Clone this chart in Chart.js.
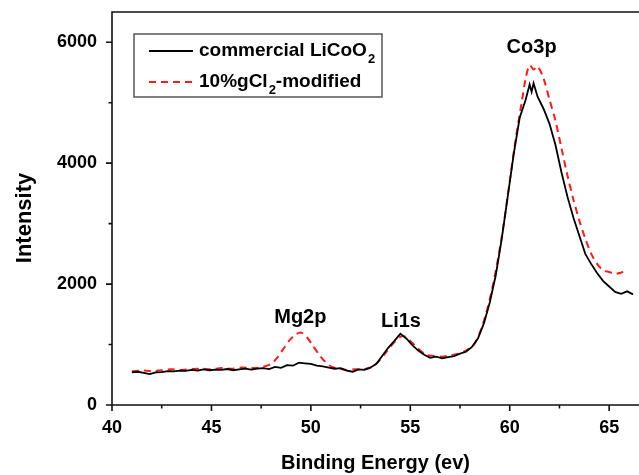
<!DOCTYPE html>
<html><head><meta charset="utf-8">
<script src="https://cdn.jsdelivr.net/npm/chart.js@4/dist/chart.umd.min.js"></script>
<style>html,body{margin:0;padding:0;background:#fff}#wrap{width:639px;height:475px}</style>
</head><body><div id="wrap"><canvas id="c"></canvas></div>
<script>
const energyBlack = [41.0,41.3,41.6,41.9,42.2,42.5,42.8,43.1,43.4,43.7,44.0,44.3,44.6,44.9,45.2,45.5,45.8,46.1,46.4,46.7,47.0,47.3,47.6,47.9,48.2,48.5,48.8,49.1,49.4,49.7,50.0,50.3,50.6,50.9,51.2,51.5,51.8,52.1,52.4,52.7,53.0,53.3,53.6,53.9,54.2,54.5,54.8,55.1,55.4,55.7,56.0,56.3,56.6,56.9,57.2,57.5,57.8,58.1,58.4,58.7,59.0,59.3,59.6,59.9,60.2,60.5,60.8,61.0,61.1,61.2,61.4,61.7,62.0,62.3,62.6,62.9,63.2,63.5,63.8,64.1,64.4,64.7,65.0,65.3,65.6,65.9,66.2];
const intensityBlack = [540,550,530,510,540,545,560,555,570,565,580,570,590,575,585,580,595,575,590,600,585,600,610,595,630,615,660,650,700,690,680,650,640,620,600,610,570,550,590,580,620,680,820,950,1060,1180,1100,990,900,830,780,800,770,790,810,850,880,960,1100,1350,1700,2150,2750,3450,4150,4750,5050,5300,5180,5320,5100,4900,4650,4300,3850,3450,3100,2800,2500,2330,2180,2050,1960,1870,1840,1880,1830];
const energyRed = [41.0,41.5,42.0,42.5,43.0,43.5,44.0,44.5,45.0,45.5,46.0,46.5,47.0,47.5,48.0,48.3,48.6,48.9,49.2,49.5,49.8,50.1,50.4,50.7,51.0,51.4,51.8,52.2,52.6,53.0,53.4,53.8,54.2,54.6,55.0,55.4,55.8,56.2,56.6,57.0,57.4,57.8,58.2,58.5,58.8,59.1,59.4,59.7,60.0,60.3,60.6,60.8,61.0,61.2,61.4,61.7,62.0,62.3,62.6,62.9,63.2,63.5,63.8,64.1,64.4,64.7,65.0,65.3,65.7];
const intensityRed = [560,570,560,575,590,580,595,600,590,610,600,620,610,625,680,780,920,1060,1160,1200,1120,980,840,720,640,600,580,590,590,620,720,880,1040,1140,1060,930,830,810,800,820,850,900,1000,1200,1500,1900,2400,3000,3700,4400,5000,5400,5620,5550,5600,5400,5050,4700,4250,3800,3400,3050,2750,2500,2330,2230,2200,2170,2200];
const seriesLabels = ['commercial LiCoO\u2082', '10%gCl\u2082-modified'];
const xMajorTicks = [40,45,50,55,60,65];
const xMinorTicks = [42.5,47.5,52.5,57.5,62.5];
const yMajorTicks = [0,2000,4000,6000];
const yMinorTicks = [1000,3000,5000];
const peakLabels = ['Mg2p','Li1s','Co3p'];
const peakLabelX = [49.47,54.53,61.1];
const peakLabelY = [1440,1375,5910];
const yTitle = 'Intensity';

const FONT = '"Liberation Sans", Arial, sans-serif';
const pts = (xs, ys) => xs.map((x,i)=>({x, y: ys[i]}));

const decor = {
  id: 'decor',
  afterDraw(chart) {
    const ctx = chart.ctx, ca = chart.chartArea;
    const xs = chart.scales.x, ys = chart.scales.y;
    ctx.save();
    ctx.strokeStyle = '#111'; ctx.lineWidth = 1.6;
    ctx.beginPath();
    ctx.moveTo(ca.left, ca.bottom); ctx.lineTo(ca.left, ca.top); ctx.lineTo(ca.right, ca.top);
    ctx.moveTo(ca.left, ca.bottom); ctx.lineTo(ca.right, ca.bottom);
    ctx.stroke();
    ctx.beginPath();
    xMajorTicks.forEach(v=>{const p=xs.getPixelForValue(v); ctx.moveTo(p,ca.bottom); ctx.lineTo(p,ca.bottom+6);});
    xMinorTicks.forEach(v=>{const p=xs.getPixelForValue(v); ctx.moveTo(p,ca.bottom); ctx.lineTo(p,ca.bottom+3.5);});
    yMajorTicks.forEach(v=>{const p=ys.getPixelForValue(v); ctx.moveTo(ca.left,p); ctx.lineTo(ca.left-6,p);});
    yMinorTicks.forEach(v=>{const p=ys.getPixelForValue(v); ctx.moveTo(ca.left,p); ctx.lineTo(ca.left-3.5,p);});
    ctx.stroke();
    ctx.fillStyle = '#000';
    ctx.save();
    ctx.translate(25, 218); ctx.rotate(-Math.PI/2);
    ctx.font = 'bold 22px ' + FONT; ctx.textAlign = 'center'; ctx.textBaseline = 'middle';
    ctx.fillText(yTitle, 0, 0);
    ctx.restore();
    ctx.font = 'bold 20px ' + FONT;
    ctx.textAlign = 'center'; ctx.textBaseline = 'middle';
    peakLabels.forEach((t,i)=>ctx.fillText(t, xs.getPixelForValue(peakLabelX[i]), ys.getPixelForValue(peakLabelY[i])));
    const bx = 134, by = 34, bw = 248, bh = 63;
    ctx.strokeStyle = '#555'; ctx.lineWidth = 1.5;
    ctx.strokeRect(bx, by, bw, bh);
    const rows = [by+17, by+48];
    chart.data.datasets.forEach((ds,i)=>{
      const y = rows[i];
      ctx.strokeStyle = ds.borderColor; ctx.lineWidth = 2;
      ctx.setLineDash(ds.borderDash || []);
      ctx.beginPath(); ctx.moveTo(bx+15, y); ctx.lineTo(bx+59, y); ctx.stroke();
      ctx.setLineDash([]);
      let x = bx + 65;
      ctx.textAlign = 'left'; ctx.textBaseline = 'middle'; ctx.fillStyle = '#000';
      const parts = ds.label.split('\u2082');
      parts.forEach((p,j)=>{
        ctx.font = 'bold 19px ' + FONT;
        ctx.fillText(p, x, y); x += ctx.measureText(p).width;
        if (j < parts.length-1) {
          ctx.font = 'bold 13px ' + FONT;
          ctx.fillText('2', x+1, y+8); x += ctx.measureText('2').width + 1;
        }
      });
    });
    ctx.restore();
  }
};

new Chart(document.getElementById('c'), {
  type: 'line',
  data: {
    datasets: [
      {label: seriesLabels[0], data: pts(energyBlack, intensityBlack), borderColor: '#000', borderWidth: 1.8, pointRadius: 0, tension: 0, fill: false},
      {label: seriesLabels[1], data: pts(energyRed, intensityRed), borderColor: '#ff1a1a', borderWidth: 2, borderDash: [7,5], pointRadius: 0, tension: 0.3, fill: false}
    ]
  },
  options: {
    responsive: true, maintainAspectRatio: false, animation: false,
    layout: {padding: {top: 12, right: 0, left: 0, bottom: 0}},
    plugins: {legend: {display: false}, tooltip: {enabled: false}},
    scales: {
      x: {
        type: 'linear', min: 40, max: 66.5,
        grid: {display: false, drawTicks: false}, border: {display: false},
        afterBuildTicks: s => { s.ticks = xMajorTicks.map(v=>({value: v})); },
        ticks: {font: {family: FONT, size: 18, weight: 'bold'}, color: '#000', padding: 12, maxRotation: 0, autoSkip: false, callback: v => String(v)},
        title: {display: true, text: 'Binding Energy (ev)', font: {family: FONT, size: 20, weight: 'bold'}, color: '#000', padding: {top: 0, bottom: 0}},
        afterFit: s => { s.height = 70; s.paddingLeft = 0; s.paddingRight = 0; s.paddingTop = 0; s.paddingBottom = 0; }
      },
      y: {
        type: 'linear', min: 0, max: 6500,
        grid: {display: false, drawTicks: false}, border: {display: false},
        afterBuildTicks: s => { s.ticks = yMajorTicks.map(v=>({value: v})); },
        ticks: {font: {family: FONT, size: 18, weight: 'bold'}, color: '#000', padding: 15, autoSkip: false, callback: v => String(v)},
        title: {display: false},
        afterFit: s => { s.width = 112; s.paddingTop = 0; s.paddingBottom = 0; s.paddingLeft = 0; s.paddingRight = 0; }
      }
    }
  },
  plugins: [decor]
});
</script></body></html>
